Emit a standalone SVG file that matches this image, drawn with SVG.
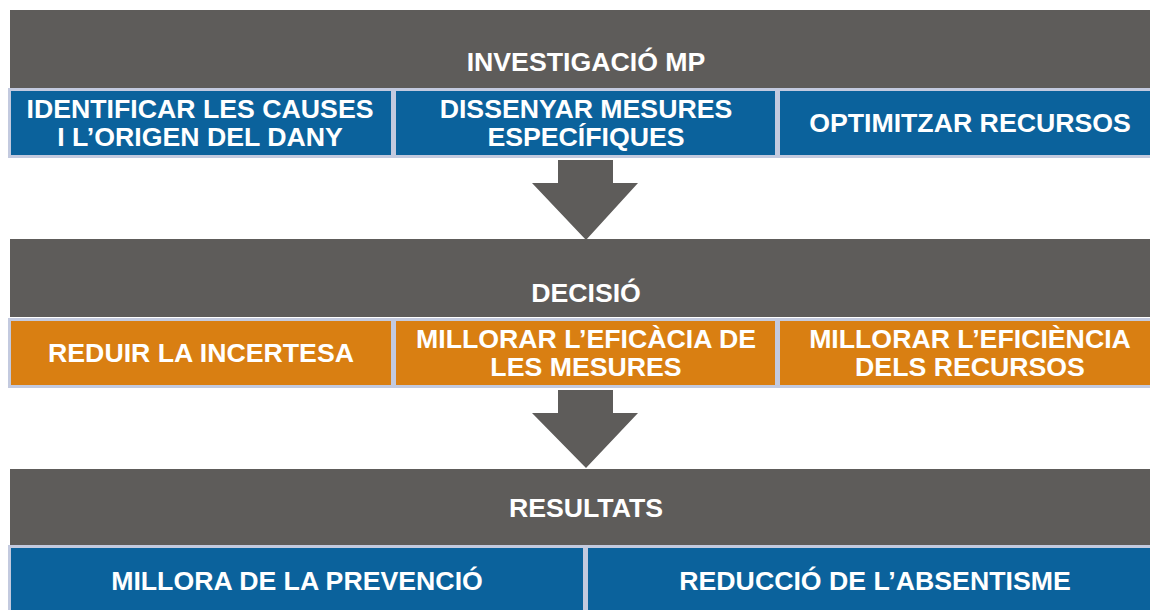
<svg xmlns="http://www.w3.org/2000/svg" width="1150" height="610" viewBox="0 0 1150 610">
<style>
.band{fill:#5e5c5a}
.blue{fill:#0b629c;stroke:#c3cadf;stroke-width:3}
.orange{fill:#d97f12;stroke:#c3cadf;stroke-width:3}
.arrow{fill:#5e5c5a}
text{font-family:"Liberation Sans",Arial,sans-serif;font-weight:bold;font-size:26.7px;fill:#ffffff;text-anchor:middle}
</style>
<rect width="1150" height="610" fill="#ffffff"/>
<g id="connectors">
<polygon class="arrow" points="558,160 613,160 613,183 638,183 586,240 532,183 558,183"/>
<polygon class="arrow" points="558,390 613,390 613,413 638,413 586,468 532,413 558,413"/>
</g>
<g id="investigacio">
<rect class="band" x="10" y="10" width="1145" height="78"/>
<text x="586" y="71">INVESTIGACIÓ MP</text>
</g>
<g id="identificar">
<rect class="blue" x="9.5" y="89.5" width="383" height="67"/>
<text x="200" y="118">IDENTIFICAR LES CAUSES</text>
<text x="200" y="146">I L’ORIGEN DEL DANY</text>
</g>
<g id="dissenyar">
<rect class="blue" x="394.5" y="89.5" width="382" height="67"/>
<text x="586" y="118">DISSENYAR MESURES</text>
<text x="586" y="146">ESPECÍFIQUES</text>
</g>
<g id="optimitzar">
<rect class="blue" x="778.5" y="89.5" width="385" height="67"/>
<text x="970" y="132">OPTIMITZAR RECURSOS</text>
</g>
<g id="decisio">
<rect class="band" x="10" y="239" width="1145" height="78"/>
<text x="586" y="302">DECISIÓ</text>
</g>
<g id="reduir">
<rect class="orange" x="9.5" y="319.5" width="383" height="67"/>
<text x="201" y="362">REDUIR LA INCERTESA</text>
</g>
<g id="eficacia">
<rect class="orange" x="394.5" y="319.5" width="382" height="67"/>
<text x="586" y="348">MILLORAR L’EFICÀCIA DE</text>
<text x="586" y="376">LES MESURES</text>
</g>
<g id="eficiencia">
<rect class="orange" x="778.5" y="319.5" width="385" height="67"/>
<text x="970" y="348">MILLORAR L’EFICIÈNCIA</text>
<text x="970" y="376">DELS RECURSOS</text>
</g>
<g id="resultats">
<rect class="band" x="10" y="469" width="1145" height="76"/>
<text x="586" y="517">RESULTATS</text>
</g>
<g id="prevencio">
<rect class="blue" x="9.5" y="546.5" width="575" height="70"/>
<text x="297" y="590">MILLORA DE LA PREVENCIÓ</text>
</g>
<g id="absentisme">
<rect class="blue" x="586.5" y="546.5" width="575" height="70"/>
<text x="875" y="590">REDUCCIÓ DE L’ABSENTISME</text>
</g>
</svg>
